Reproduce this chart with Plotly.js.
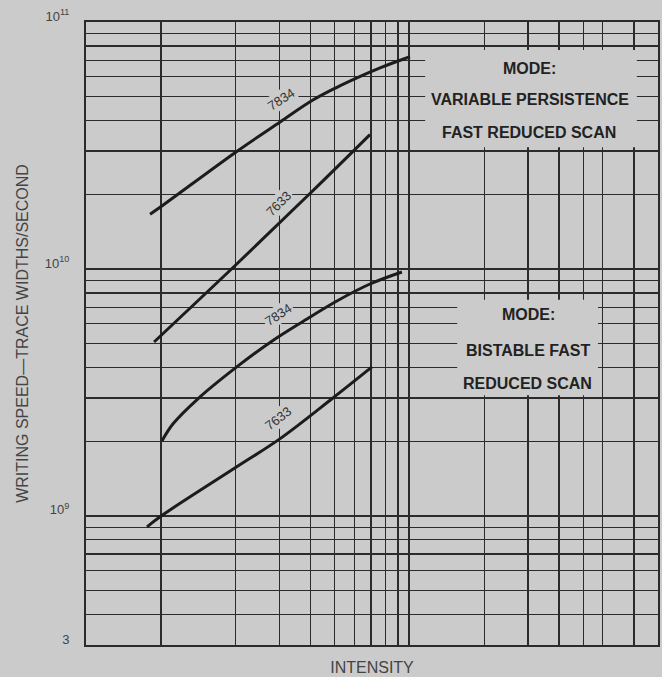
<!DOCTYPE html>
<html>
<head>
<meta charset="utf-8">
<script src="https://cdn.plot.ly/plotly-3.0.1.min.js"></script>
<style>html,body{margin:0;padding:0;background:#cbcbcb;}#chart{width:662px;height:677px;}</style>
</head>
<body>
<div id="chart"></div>
<script>
// Variable persistence, fast reduced scan
const vp7834_x = [0.905, 1.0, 2.02, 3.01, 4.09, 5.11, 6.15, 7.62, 10.05];
const vp7834_y = [1.667e10, 1.786e10, 2.99e10, 3.93e10, 4.83e10, 5.44e10, 5.94e10, 6.52e10, 7.23e10];
const vp7633_x = [0.939, 2.02, 3.98, 6.94];
const vp7633_y = [5.06e9, 1.047e10, 2.02e10, 3.50e10];
// Bistable fast reduced scan
const bs7834_x = [1.01, 1.12, 1.41, 2.02, 2.75, 3.73, 5.11, 6.94, 9.33];
const bs7834_y = [2.01e9, 2.36e9, 2.98e9, 4.01e9, 5.04e9, 6.13e9, 7.42e9, 8.69e9, 9.72e9];
const bs7633_x = [0.88, 0.99, 2.02, 3.01, 4.88, 7.07];
const bs7633_y = [9.03e8, 9.9e8, 1.58e9, 2.05e9, 2.98e9, 4.01e9];

const yTickVals = [3e8, 1e9, 1e10, 1e11];
const yTickText = ['3', '10<sup>9</sup>', '10<sup>10</sup>', '10<sup>11</sup>'];
const xMajor = [1, 10];
const xMinor = [2, 3, 4, 5, 6, 7, 8, 9, 20, 30, 40, 50, 60, 80];
const yMinor = [4e8, 5e8, 6e8, 7e8, 8e8, 9e8, 2e9, 3e9, 4e9, 5e9, 6e9, 7e9, 8e9, 9e9,
                2e10, 3e10, 4e10, 5e10, 6e10, 7e10, 8e10, 9e10];

const BG = '#cbcbcb';
const LINE = '#2b2b2b';
const INK = '#1c1c1c';
const FONT = 'Liberation Sans, Arial, sans-serif';

function curve(x, y, shape) {
  return {x: x, y: y, type: 'scatter', mode: 'lines',
          line: {color: INK, width: 3, shape: shape, smoothing: 1},
          hoverinfo: 'skip', showlegend: false};
}
const data = [curve(vp7834_x, vp7834_y, 'spline'), curve(vp7633_x, vp7633_y, 'spline'),
              curve(bs7834_x, bs7834_y, 'spline'), curve(bs7633_x, bs7633_y, 'spline')];

function lab(text, x, y, ang) {
  return {text: text, xref: 'paper', yref: 'paper', x: x, y: y, showarrow: false,
          xanchor: 'center', yanchor: 'middle',
          textangle: ang, bgcolor: BG, borderpad: 1,
          font: {family: FONT, size: 13, color: '#333'}};
}
function mode(text, x, y) {
  return {text: text, xref: 'paper', yref: 'paper', x: x, y: y, showarrow: false,
          xanchor: 'center', yanchor: 'middle',
          font: {family: FONT, size: 16, color: '#222', weight: 'bold'}};
}

const layout = {
  width: 662, height: 677,
  margin: {l: 86, r: 4, t: 22, b: 32},
  paper_bgcolor: BG, plot_bgcolor: BG,
  showlegend: false,
  xaxis: {
    type: 'log', range: [Math.log10(0.5), 2],
    tickvals: xMajor, showticklabels: false, ticks: '',
    showgrid: true, gridcolor: LINE, gridwidth: 2,
    minor: {tickvals: xMinor, showgrid: true, gridcolor: LINE, gridwidth: 1.3, ticks: ''},
    showline: true, mirror: true, linecolor: LINE, linewidth: 2,
    zeroline: false,
    title: {text: 'INTENSITY', standoff: 16, font: {family: FONT, size: 16, color: '#444'}}
  },
  yaxis: {
    type: 'log', range: [Math.log10(3e8), 11],
    tickvals: yTickVals, ticktext: yTickText, ticks: '',
    tickfont: {family: FONT, size: 13, color: '#444'},
    ticklabelstandoff: 12, ticklabelshift: -6,
    showgrid: true, gridcolor: LINE, gridwidth: 2,
    minor: {tickvals: yMinor, showgrid: true, gridcolor: LINE, gridwidth: 1.3, ticks: ''},
    showline: true, mirror: true, linecolor: LINE, linewidth: 2,
    zeroline: false,
    title: {text: 'WRITING SPEED\u2014TRACE WIDTHS/SECOND', standoff: 12,
            font: {family: FONT, size: 16, color: '#444'}}
  },
  shapes: [
    {type: 'rect', xref: 'paper', yref: 'paper', x0: 0.593, x1: 0.963, y0: 0.799, y1: 0.955,
     fillcolor: BG, line: {width: 0}, layer: 'above'},
    {type: 'rect', xref: 'paper', yref: 'paper', x0: 0.649, x1: 0.895, y0: 0.401, y1: 0.554,
     fillcolor: BG, line: {width: 0}, layer: 'above'}
  ],
  annotations: [
    lab('7834', 0.341, 0.875, -33),
    lab('7633', 0.337, 0.709, -45),
    lab('7834', 0.337, 0.530, -33),
    lab('7633', 0.336, 0.363, -38),
    mode('MODE:', 0.776, 0.926),
    mode('VARIABLE PERSISTENCE', 0.776, 0.875),
    mode('FAST REDUCED SCAN', 0.774, 0.822),
    mode('MODE:', 0.773, 0.530),
    mode('BISTABLE FAST', 0.773, 0.4735),
    mode('REDUCED SCAN', 0.771, 0.4205)
  ]
};

Plotly.newPlot('chart', data, layout, {displayModeBar: false, staticPlot: true});
</script>
</body>
</html>
